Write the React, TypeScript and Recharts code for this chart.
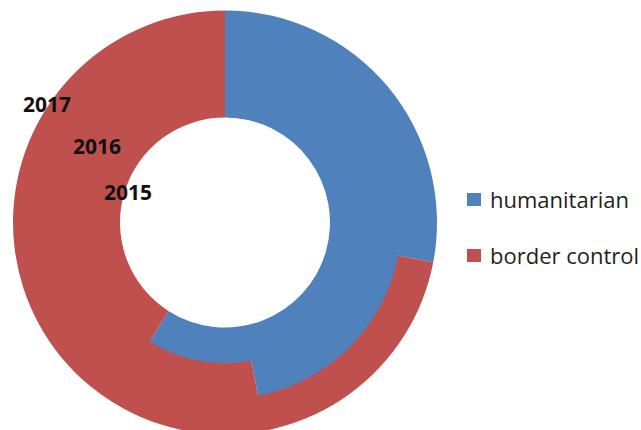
import React from 'react';
import { PieChart, Pie, Cell, Legend } from 'recharts';

const years = ['2015', '2016', '2017'];
const humanitarian = [59, 47, 28];
const borderControl = [41, 53, 72];
const seriesNames = ['humanitarian', 'border control'];
const colors = ['#4F81BD', '#C0504D'];

const CX = 225;
const CY = 222.5;
const R_IN = 105;
const R_OUT = 212;
const RING = (R_OUT - R_IN) / years.length;

const rings = years.map((y, i) => ({
  year: y,
  idx: i,
  data: [
    { name: seriesNames[0], value: humanitarian[i] },
    { name: seriesNames[1], value: borderControl[i] },
  ],
}));

const yearLabelPos = [
  { x: 104, y: 200 },
  { x: 73, y: 154 },
  { x: 23, y: 112 },
];

const LegendContent = () => (
  <div style={{ position: 'relative', width: 174, height: 90 }}>
    {seriesNames.map((n, i) => (
      <div key={n}>
        <div
          style={{
            position: 'absolute',
            left: 0,
            top: 8 + i * 56,
            width: 14,
            height: 13,
            background: colors[i],
          }}
        />
        <div
          style={{
            position: 'absolute',
            left: 23,
            top: -1.5 + i * 56,
            fontFamily: '"Open Sans", sans-serif',
            fontSize: 22,
            lineHeight: '30px',
            color: '#1f1f1f',
            whiteSpace: 'nowrap',
          }}
        >
          {n}
        </div>
      </div>
    ))}
  </div>
);

export default function App() {
  const ordered = [...rings].reverse();
  return (
    <div
      style={{
        position: 'absolute',
        left: 0,
        top: 0,
        width: 641,
        height: 430,
        overflow: 'hidden',
        background: '#fff',
      }}
    >
      <PieChart width={641} height={430} margin={{ top: 0, right: 0, bottom: 0, left: 0 }}>
        {ordered.map((r) => (
          <Pie
            key={r.year}
            data={r.data}
            dataKey="value"
            nameKey="name"
            cx={CX}
            cy={CY}
            innerRadius={R_IN + r.idx * RING - (r.idx > 0 ? 2 : 0)}
            outerRadius={R_IN + (r.idx + 1) * RING}
            startAngle={90}
            endAngle={-270}
            stroke="none"
            isAnimationActive={false}
          >
            {r.data.map((d, j) => (
              <Cell key={d.name} fill={colors[j]} />
            ))}
          </Pie>
        ))}
        <Legend
          content={LegendContent}
          wrapperStyle={{ position: 'absolute', left: 467, top: 185, width: 174, height: 90 }}
        />
      </PieChart>
      <svg
        width={641}
        height={430}
        style={{ position: 'absolute', left: 0, top: 0, pointerEvents: 'none' }}
      >
        {years.map((y, i) => (
          <text
            key={y}
            x={yearLabelPos[i].x}
            y={yearLabelPos[i].y}
            fontFamily='"Open Sans", sans-serif'
            fontWeight="bold"
            fontSize={21}
            fill="#111"
          >
            {y}
          </text>
        ))}
      </svg>
    </div>
  );
}
